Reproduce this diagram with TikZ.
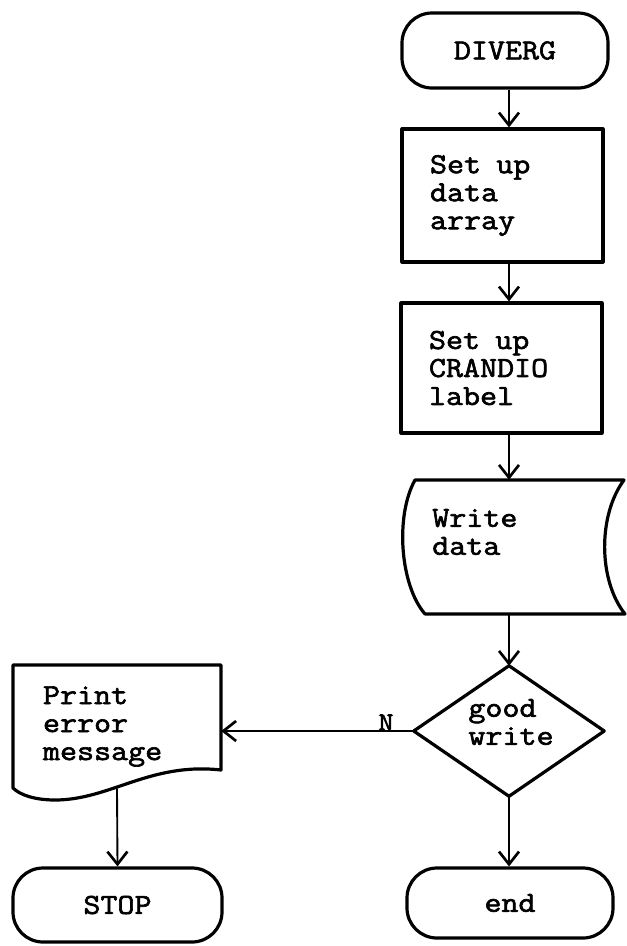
\documentclass[tikz,border=0pt]{standalone}
\usepackage{fontspec}
\setmonofont{Latin Modern Mono}[FakeStretch=1.14, FakeBold=2.2, WordSpace={1,0,0}]
\usetikzlibrary{arrows.meta,calc}
% one full character cell of the monospaced face
\newcommand{\cellsp}{\hspace*{0.525em}}

\begin{document}
\begin{tikzpicture}[x=0.75pt,y=-0.75pt,
  every node/.style={font=\ttfamily\fontsize{21.75}{21}\selectfont},
  shapeline/.style={line width=2.4pt, line join=round, line cap=round},
  conn/.style={line width=1.4pt,
    -{Straight Barb[length=9.5pt,width=15pt,line width=2pt]}},
  terminal/.style={shapeline, draw, rounded corners=22.5pt,
    minimum width=154.5pt, minimum height=56.25pt, inner sep=0pt},
  procbox/.style={shapeline, draw, align=left, text width=108.75pt,
    inner xsep=21pt, inner ysep=0pt, minimum width=150.75pt},
  frame/.style={inner sep=0pt, draw=none},
  plaintext/.style={inner sep=0pt, align=left}
]
% page
\fill[white] (0,0) rectangle (627,946);
\useasboundingbox (0,0) rectangle (627,946);

% column of the main flow
\coordinate (col) at (509,0);

% start
\node[terminal] (diverg) at (505,50.5) {DIVERG};

% processing steps
\node[procbox, minimum height=99.75pt] (setup1) at (502.5,195.5)
  {Set\cellsp up\\data\\array};
\node[procbox, minimum height=97.5pt] (setup2) at (501.5,368)
  {Set\cellsp up\\CRANDIO\\label};

% stored data: write
\node[frame, minimum width=168pt, minimum height=100.5pt] (wd) at (513,547) {};
\draw[shapeline, shift={(wd.center)}]
  (-98,-67) -- (111,-67)
  .. controls (85,-32) and (85,33) .. (112,67)
  -- (-88,67)
  .. controls (-113,38) and (-118,-31) .. cycle;
\node[plaintext, anchor=west] (wdtext) at (432,532) {Write\\data};

% decision
\node[frame, minimum width=142.5pt, minimum height=97.5pt] (dia) at (509,731) {};
\draw[shapeline] (dia.north) -- (dia.east) -- (dia.south) -- (dia.west) -- cycle;
\node[plaintext] (diatext) at (511,722) {good\\write};

% document: error message
\node[frame, align=left, text width=111pt, inner xsep=22.5pt,
  minimum width=156pt, minimum height=92.25pt] (pbox) at (117,726.5)
  {Print\\error\\message};
\draw[shapeline, shift={(pbox.center)}]
  (-104,-61.5) -- (104,-61.5) -- (104,43.5)
  .. controls (33,35.5) and (-7,73.5) .. (-62,73.5)
  .. controls (-82,73.5) and (-97,68.5) .. (-104,61.5) -- cycle;

% ends
\node[terminal, minimum width=156.75pt, minimum height=55.5pt] (stop) at (117.5,905) {STOP};
\node[terminal, minimum height=52.5pt] (endn) at (510,903) {end};

% connectors
\draw[conn] (diverg.south -| col) -- (setup1.north -| col);
\draw[conn] (setup1.south -| col) -- (setup2.north -| col);
\draw[conn] (setup2.south -| col) -- (wd.north -| col);
\draw[conn] (wd.south -| col) -- (dia.north);
\draw[conn] (dia.west) -- (dia.west -| pbox.east);
\node[inner sep=0pt, anchor=base east, font=\ttfamily\fontsize{19}{19}\selectfont]
  (nlab) at ($(dia.west)+(-20,-1)$) {N};
\draw[conn] (pbox.south) -- (stop.north);
\draw[conn] (dia.south) -- (dia.south |- endn.north);
\end{tikzpicture}
\end{document}
